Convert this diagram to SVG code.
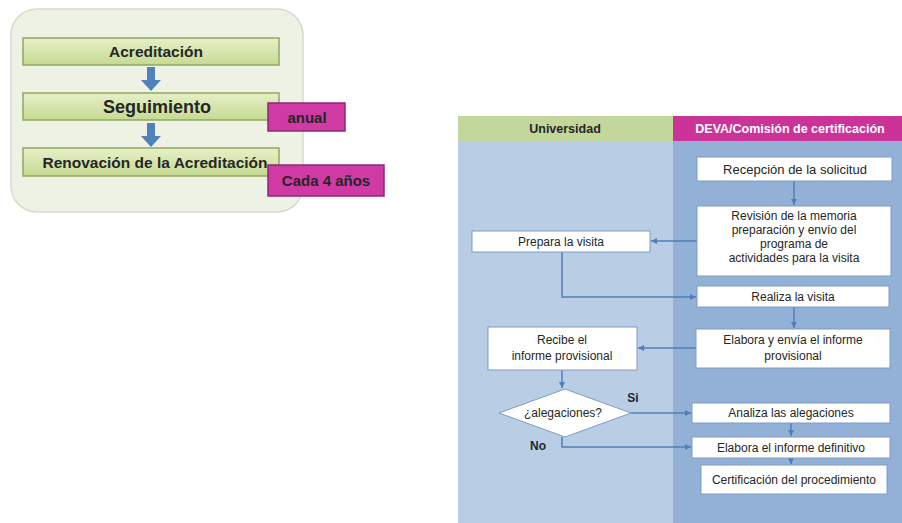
<svg xmlns="http://www.w3.org/2000/svg" width="902" height="523" viewBox="0 0 902 523">
<style>
.t{font-family:"Liberation Sans",Arial,sans-serif;fill:#262626;text-anchor:middle}
.b{font-weight:bold}
.box{fill:#ffffff;stroke:#7f9cc4;stroke-width:1}
.bar{fill:url(#gbar);stroke:#8ea862;stroke-width:1.5}
.mag{fill:#cf3aa5;stroke:#8c2a72;stroke-width:1.5}
.con{fill:none;stroke:#4f7fb8;stroke-width:1.5}
.blk{fill:#4f81bd}
</style>
<defs>
<linearGradient id="gbar" x1="0" y1="0" x2="0" y2="1">
<stop offset="0" stop-color="#e6f0c8"/>
<stop offset="1" stop-color="#c6da92"/>
</linearGradient>
<marker id="ah" markerWidth="8" markerHeight="8" refX="6" refY="4" orient="auto" markerUnits="userSpaceOnUse">
<path d="M0,1 L6,4 L0,7 Z" fill="#4f7fb8"/>
</marker>
</defs>
<rect width="902" height="523" fill="#ffffff"/>

<g id="panel">
<rect x="11" y="9" width="292" height="203" rx="26" fill="#eef2e4" stroke="#d6dccb" stroke-width="1.5"/>
</g>
<g id="acreditacion">
<rect class="bar" x="23" y="38" width="256" height="27"/>
<text class="t b" x="156" y="57" font-size="15.5">Acreditación</text>
</g>
<g id="seguimiento">
<rect class="bar" x="23" y="93" width="256" height="27"/>
<text class="t b" x="157" y="113" font-size="18">Seguimiento</text>
</g>
<g id="renovacion">
<rect class="bar" x="23" y="148" width="256" height="28"/>
<text class="t b" x="155" y="168" font-size="15.5">Renovación de la Acreditación</text>
</g>
<g id="anual">
<rect class="mag" x="268" y="103" width="77" height="28"/>
<text class="t b" x="307" y="123" font-size="15">anual</text>
</g>
<g id="cada4">
<rect class="mag" x="268" y="165" width="116" height="31"/>
<text class="t b" x="326" y="186" font-size="15">Cada 4 años</text>
</g>
<g id="block-arrows">
<path class="blk" d="M147,67 h8 v13 h6 l-10,11 l-10,-11 h6 z"/>
<path class="blk" d="M147,123 h8 v13 h6 l-10,11 l-10,-11 h6 z"/>
</g>

<g id="lanes">
<rect x="458" y="141" width="215" height="382" fill="#b9cde5"/>
<rect x="673" y="141" width="229" height="382" fill="#93b1d6"/>
</g>
<g id="hdr-universidad">
<rect x="458" y="116" width="215" height="25" fill="#c3d69b"/>
<text class="t b" x="565" y="133" font-size="12.5">Universidad</text>
</g>
<g id="hdr-deva">
<rect x="673" y="116" width="229" height="25" fill="#cc3399"/>
<text class="t b" x="790" y="133" font-size="12.5" style="fill:#ffffff">DEVA/Comisión de certificación</text>
</g>

<g id="connectors">
<path class="con" d="M794,181 V205" marker-end="url(#ah)"/>
<path class="con" d="M697,241 H651" marker-end="url(#ah)"/>
<path class="con" d="M562,252 V297 H696" marker-end="url(#ah)"/>
<path class="con" d="M794,307 V328" marker-end="url(#ah)"/>
<path class="con" d="M696,348 H638" marker-end="url(#ah)"/>
<path class="con" d="M562,370 V388" marker-end="url(#ah)"/>
<path class="con" d="M631,413 H691" marker-end="url(#ah)"/>
<path class="con" d="M562,437 V447 H691" marker-end="url(#ah)"/>
<path class="con" d="M791,423 V436" marker-end="url(#ah)"/>
<path class="con" d="M791,458 V464" marker-end="url(#ah)"/>
</g>

<g id="recepcion">
<rect class="box" x="697" y="157" width="195" height="24"/>
<text class="t" x="795" y="174" font-size="13">Recepción de la solicitud</text>
</g>
<g id="revision">
<rect class="box" x="697" y="206" width="194" height="70"/>
<text class="t" x="794" y="220" font-size="12">Revisión de la memoria</text>
<text class="t" x="794" y="234" font-size="12">preparación y envío del</text>
<text class="t" x="794" y="248" font-size="12">programa de</text>
<text class="t" x="794" y="262" font-size="12">actividades para la visita</text>
</g>
<g id="prepara">
<rect class="box" x="472" y="231" width="178" height="21"/>
<text class="t" x="561" y="246" font-size="12">Prepara la visita</text>
</g>
<g id="realiza">
<rect class="box" x="697" y="286" width="192" height="21"/>
<text class="t" x="793" y="301" font-size="12">Realiza la visita</text>
</g>
<g id="elabora-prov">
<rect class="box" x="696" y="329" width="194" height="39"/>
<text class="t" x="793" y="344" font-size="12">Elabora y envía el informe</text>
<text class="t" x="793" y="360" font-size="12">provisional</text>
</g>
<g id="recibe">
<rect class="box" x="488" y="327" width="149" height="43"/>
<text class="t" x="562" y="344" font-size="12">Recibe el</text>
<text class="t" x="562" y="360" font-size="12">informe provisional</text>
</g>
<g id="alegaciones">
<polygon points="565,389 631,413 565,437 499,413" fill="#ffffff" stroke="#7f9cc4" stroke-width="1"/>
<text class="t" x="563" y="417" font-size="12">¿alegaciones?</text>
</g>
<text class="t b" x="633" y="402" font-size="12">Si</text>
<text class="t b" x="538" y="450" font-size="12">No</text>
<g id="analiza">
<rect class="box" x="692" y="403" width="198" height="20"/>
<text class="t" x="791" y="417" font-size="12">Analiza  las alegaciones</text>
</g>
<g id="definitivo">
<rect class="box" x="692" y="437" width="198" height="21"/>
<text class="t" x="791" y="452" font-size="12">Elabora el informe definitivo</text>
</g>
<g id="certificacion">
<rect class="box" x="701" y="465" width="186" height="29"/>
<text class="t" x="794" y="484" font-size="12">Certificación del procedimiento</text>
</g>
</svg>
